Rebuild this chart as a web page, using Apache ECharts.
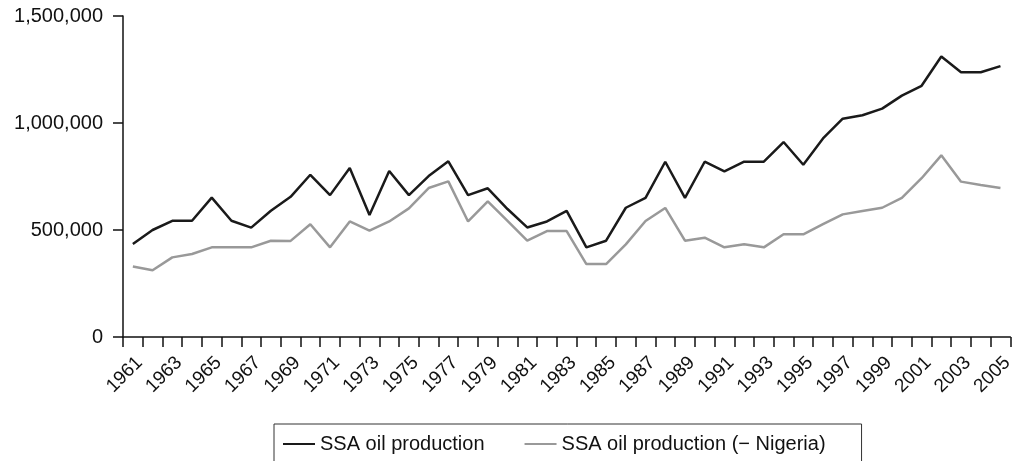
<!DOCTYPE html>
<html>
<head>
<meta charset="utf-8">
<script src="https://cdn.jsdelivr.net/npm/echarts@6/dist/echarts.min.js"></script>
<style>
  html, body { margin: 0; padding: 0; background: #fff; }
  #main { width: 1016px; height: 461px; }
</style>
</head>
<body>
<div id="main"></div>
<script>
// years 1961 - 2005
var years = [];
for (var y = 1961; y <= 2005; y++) years.push(String(y));

// SSA oil production
var ssaTotal = [
  435000, 500000, 543000, 543000, 651000, 543000, 511000, 590000, 655000, 758000,
  663000, 790000, 570000, 776000, 663000, 752000, 821000, 663000, 695000, 598000,
  512000, 540000, 589000, 419000, 450000, 604000, 650000, 819000, 650000, 819000,
  774000, 819000, 819000, 911000, 805000, 928000, 1020000, 1036000, 1067000, 1128000,
  1174000, 1311000, 1237000, 1237000, 1266000
];
// SSA oil production without Nigeria
var ssaExNigeria = [
  329000, 312000, 372000, 388000, 419000, 419000, 419000, 450000, 449000, 527000,
  419000, 540000, 497000, 540000, 601000, 696000, 727000, 540000, 634000, 543000,
  450000, 495000, 495000, 341000, 341000, 433000, 542000, 603000, 450000, 464000,
  419000, 433000, 419000, 480000, 480000, 527000, 573000, 589000, 604000, 650000,
  742000, 849000, 726000, 710000, 696000
];
var yTicks = [0, 500000, 1000000, 1500000];

var chart = echarts.init(document.getElementById('main'));
var font = 'Liberation Sans, Arial, sans-serif';

chart.setOption({
  animation: false,
  textStyle: { fontFamily: font },
  grid: { left: 123, right: 4, top: 16, bottom: 124 },
  legend: {
    left: 274,
    top: 424,
    padding: [10, 36, 10, 9],
    borderColor: '#333',
    borderWidth: 1,
    itemWidth: 32,
    itemHeight: 10,
    itemGap: 40,
    icon: 'path://M0,4L32,4L32,6L0,6Z',
    textStyle: { fontSize: 20, color: '#111', fontFamily: font },
    data: ['SSA oil production', 'SSA oil production (\u2212 Nigeria)']
  },
  xAxis: {
    type: 'category',
    data: years,
    boundaryGap: true,
    axisLine: { lineStyle: { color: '#111', width: 1.5 } },
    axisTick: { show: true, length: 10, interval: 0, lineStyle: { color: '#111', width: 1.5 } },
    axisLabel: { interval: 1, rotate: 45, fontSize: 19, color: '#111', margin: 16, verticalAlign: 'top' },
    splitLine: { show: false }
  },
  yAxis: {
    type: 'value',
    min: yTicks[0],
    max: yTicks[yTicks.length - 1],
    interval: 500000,
    axisLine: { show: true, lineStyle: { color: '#111', width: 1.5 } },
    axisTick: { show: true, length: 10, lineStyle: { color: '#111', width: 1.5 } },
    axisLabel: {
      fontSize: 20, color: '#111', margin: 20,
      formatter: function (v) { return v.toLocaleString('en-US'); }
    },
    splitLine: { show: false }
  },
  series: [
    {
      name: 'SSA oil production',
      type: 'line',
      data: ssaTotal,
      symbol: 'none',
      lineStyle: { color: '#1a1a1a', width: 2.5 },
      itemStyle: { color: '#1a1a1a' }
    },
    {
      name: 'SSA oil production (\u2212 Nigeria)',
      type: 'line',
      data: ssaExNigeria,
      symbol: 'none',
      lineStyle: { color: '#999', width: 2.5 },
      itemStyle: { color: '#999' }
    }
  ]
});
</script>
</body>
</html>
